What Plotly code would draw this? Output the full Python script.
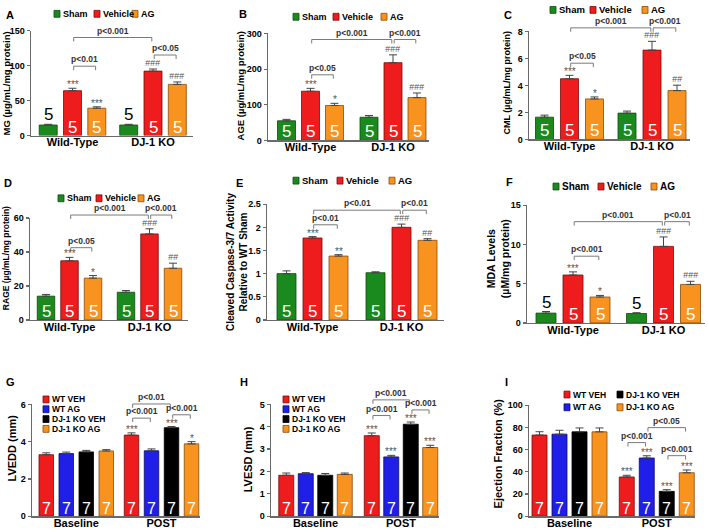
import plotly.graph_objects as go

W, H = 709, 532
FONT = "Arial, Liberation Sans, Helvetica, sans-serif"

# ---------------- data ----------------
top_groups = ["Wild-Type", "DJ-1 KO"]
top_series = ["Sham", "Vehicle", "AG"]
bottom_groups = ["Baseline", "POST"]
bottom_series = ["WT VEH", "WT AG", "DJ-1 KO VEH", "DJ-1 KO AG"]

# rows = series, columns = groups
mg_mean = [[15, 15], [64, 92], [39, 73]]
mg_sem = [[1, 1], [3.5, 3], [2, 3.5]]
mg_n = [[5, 5], [5, 5], [5, 5]]
mg_sig = [["", ""], ["***", "###"], ["***", "###"]]
mg_brackets = [(0, 1, 0, 2, 99, "p<0.01"), (0, 1, 1, 1, 140, "p<0.001"), (1, 1, 1, 2, 115, "p<0.05")]

age_mean = [[55, 65], [138, 218], [98, 120]]
age_sem = [[4, 5], [8, 22], [6, 13]]
age_n = [[5, 5], [5, 5], [5, 5]]
age_sig = [["", ""], ["***", "###"], ["*", "###"]]
age_brackets = [(0, 1, 0, 2, 184, "p<0.05"), (0, 1, 1, 1, 283, "p<0.001"), (1, 1, 1, 2, 283, "p<0.001")]

cml_mean = [[1.65, 1.95], [4.5, 6.62], [3.0, 3.62]]
cml_sem = [[0.15, 0.15], [0.25, 0.65], [0.15, 0.4]]
cml_n = [[5, 5], [5, 5], [5, 5]]
cml_sig = [["", ""], ["***", "###"], ["*", "##"]]
cml_brackets = [(0, 1, 0, 2, 5.65, "p<0.05"), (0, 1, 1, 1, 8.27, "p<0.001"), (1, 1, 1, 2, 8.27, "p<0.001")]

rage_mean = [[14, 16.3], [34.8, 50.6], [24.6, 30.4]]
rage_sem = [[1, 1], [2, 3], [1.5, 3]]
rage_n = [[5, 5], [5, 5], [5, 5]]
rage_sig = [["", ""], ["***", "###"], ["*", "##"]]
rage_brackets = [(0, 1, 0, 2, 42.5, "p<0.05"), (0, 1, 1, 1, 61.7, "p<0.001"), (1, 1, 1, 2, 61.7, "p<0.001")]

casp_mean = [[1.0, 1.02], [1.77, 2.0], [1.38, 1.72]]
casp_sem = [[0.06, 0.02], [0.03, 0.07], [0.03, 0.035]]
casp_n = [[5, 5], [5, 5], [5, 5]]
casp_sig = [["", ""], ["***", "###"], ["**", "##"]]
casp_brackets = [(0, 1, 0, 2, 2.055, "p<0.01"), (0, 1, 1, 1, 2.37, "p<0.01"), (1, 1, 1, 2, 2.37, "p<0.01")]

mda_mean = [[1.25, 1.2], [6.1, 9.75], [3.3, 4.9]]
mda_sem = [[0.2, 0.1], [0.4, 1.2], [0.2, 0.4]]
mda_n = [[5, 5], [5, 5], [5, 5]]
mda_sig = [["", ""], ["***", "###"], ["*", "###"]]
mda_brackets = [(0, 1, 0, 2, 8.5, "p<0.001"), (0, 1, 1, 1, 12.9, "p<0.001"), (1, 1, 1, 2, 12.9, "p<0.01")]

lvedd_mean = [[3.3, 4.35], [3.36, 3.51], [3.45, 4.75], [3.5, 3.88]]
lvedd_sem = [[0.1, 0.12], [0.08, 0.1], [0.08, 0.06], [0.07, 0.12]]
lvedd_n = [[7, 7], [7, 7], [7, 7], [7, 7]]
lvedd_sig = [["", "***"], ["", ""], ["", "***"], ["", "*"]]
lvedd_brackets = [(1, 0, 1, 1, 5.26, "p<0.001"), (1, 0, 1, 2, 6.02, "p<0.01"), (1, 2, 1, 3, 5.44, "p<0.001")]

lvesd_mean = [[1.83, 3.6], [1.9, 2.65], [1.83, 4.11], [1.87, 3.07]]
lvesd_sem = [[0.1, 0.12], [0.05, 0.07], [0.08, 0.1], [0.06, 0.1]]
lvesd_n = [[7, 7], [7, 7], [7, 7], [7, 7]]
lvesd_sig = [["", "***"], ["", "***"], ["", "***"], ["", "***"]]
lvesd_brackets = [(1, 0, 1, 1, 4.5, "p<0.001"), (1, 0, 1, 2, 5.2, "p<0.001"), (1, 2, 1, 3, 4.75, "p<0.001")]

ef_mean = [[73.2, 35.4], [74.0, 52.5], [76.1, 22.4], [76.1, 39.2]]
ef_sem = [[3, 1.5], [3.5, 2], [3.5, 1.5], [3.5, 2.5]]
ef_n = [[7, 7], [7, 7], [7, 7], [7, 7]]
ef_sig = [["", "***"], ["", "***"], ["", "***"], ["", "***"]]
ef_brackets = [(1, 0, 1, 1, 66.4, "p<0.001"), (1, 1, 1, 3, 79.9, "p<0.05"), (1, 2, 1, 3, 54.6, "p<0.001")]

# ---------------- styles ----------------
COLORS = {"Sham": "#1b8a1e", "Vehicle": "#ee1c1c", "AG": "#f7931e",
          "WT VEH": "#ee1c1c", "WT AG": "#1f1fe8", "DJ-1 KO VEH": "#000000", "DJ-1 KO AG": "#f7931e"}
EDGES = {"Sham": "#0c4a0c", "Vehicle": "#7a0b0b", "AG": "#8a4a08",
         "WT VEH": "#7a0b0b", "WT AG": "#0b0b70", "DJ-1 KO VEH": "#000000", "DJ-1 KO AG": "#8a4a08"}
AXC = "#6a6a6a"

panels = [
    dict(mean=mg_mean, sem=mg_sem, n=mg_n, sig=mg_sig, br=mg_brackets, groups=top_groups, series=top_series,
         letter="A", lxy=(10, 10), title="MG (µg/mL/mg protein)", txy=(6, 80), tsize=9.5,
         ax=(31, 193), ay=(133, 26), ymax=150, dtick=50, centers=(72.5, 153), slot=24.3, bw=18,
         leg=[(54, 9), (94, 9), (132, 9)], lsize=9),
    dict(mean=age_mean, sem=age_sem, n=age_n, sig=age_sig, br=age_brackets, groups=top_groups, series=top_series,
         letter="B", lxy=(243, 9), title="AGE (µg/mL/mg protein)", txy=(240, 82), tsize=9.5,
         ax=(268, 429), ay=(138, 29), ymax=300, dtick=100, centers=(310.5, 393), slot=24, bw=18,
         leg=[(293, 12), (333, 12), (381, 12)], lsize=9),
    dict(mean=cml_mean, sem=cml_sem, n=cml_n, sig=cml_sig, br=cml_brackets, groups=top_groups, series=top_series,
         letter="C", lxy=(508, 10), title="CML (µg/mL/mg protein)", txy=(507, 79), tsize=9,
         ax=(529, 690), ay=(137, 27), ymax=8, dtick=2, centers=(569.5, 652), slot=25, bw=18,
         leg=[(550, 5), (590, 5), (642, 5)], lsize=9.5),
    dict(mean=rage_mean, sem=rage_sem, n=rage_n, sig=rage_sig, br=rage_brackets, groups=top_groups, series=top_series,
         letter="D", lxy=(8, 181), title="RAGE (µg/mL/mg protein)", txy=(6, 258), tsize=8.5,
         ax=(30, 188), ay=(321, 217), ymax=60, dtick=20, centers=(69.5, 149.5), slot=23.5, bw=17.5,
         leg=[(58, 197), (96, 197), (138, 197)], lsize=9),
    dict(mean=casp_mean, sem=casp_sem, n=casp_n, sig=casp_sig, br=casp_brackets, groups=top_groups, series=top_series,
         letter="E", lxy=(240, 181), title="Cleaved Caspase-3/7 Activity<br>Relative to WT Sham", txy=(237, 262), tsize=10,
         ax=(267, 444), ay=(321, 203), ymax=2.5, dtick=0.5, centers=(312.5, 401.5), slot=26, bw=19,
         leg=[(293, 179), (337, 179), (389, 179)], lsize=9.5),
    dict(mean=mda_mean, sem=mda_sem, n=mda_n, sig=mda_sig, br=mda_brackets, groups=top_groups, series=top_series,
         letter="F", lxy=(509, 180), title="MDA Levels<br>(µM/mg protein)", txy=(498, 259), tsize=10.5,
         ax=(527, 705), ay=(324, 204), ymax=15, dtick=5, centers=(573, 663.5), slot=27, bw=20,
         leg=[(553, 185), (598, 185), (651, 185)], lsize=10),
    dict(mean=lvedd_mean, sem=lvedd_sem, n=lvedd_n, sig=lvedd_sig, br=lvedd_brackets, groups=bottom_groups, series=bottom_series,
         letter="G", lxy=(10, 384), title="LVEDD (mm)", txy=(12, 452), tsize=11,
         ax=(32, 200), ay=(521, 407), ymax=6, dtick=2, centers=(76.25, 161.5), slot=20, bw=14.5,
         leg=[(43, 402), (43, 412), (43, 422), (43, 432)], lsize=8.5),
    dict(mean=lvesd_mean, sem=lvesd_sem, n=lvesd_n, sig=lvesd_sig, br=lvesd_brackets, groups=bottom_groups, series=bottom_series,
         letter="H", lxy=(244, 384), title="LVESD (mm)", txy=(248, 463), tsize=11,
         ax=(271, 439), ay=(521, 407), ymax=5, dtick=1, centers=(315.5, 401), slot=19.5, bw=15,
         leg=[(283, 402), (283, 412), (283, 422), (283, 432)], lsize=8.5),
    dict(mean=ef_mean, sem=ef_sem, n=ef_n, sig=ef_sig, br=ef_brackets, groups=bottom_groups, series=bottom_series,
         letter="I", lxy=(506, 384), title="Ejection Fraction (%)", txy=(498, 457), tsize=11,
         ax=(529, 695), ay=(521, 408), ymax=100, dtick=20, centers=(569.5, 656.75), slot=20, bw=15,
         leg=[(564, 397), (564, 410), (617, 397), (617, 410)], lsize=8.5),
]

fig = go.Figure()
shapes, annotations = [], []
layout_axes = {}

for i, p in enumerate(panels, start=1):
    sfx = "" if i == 1 else str(i)
    xa, ya = "x" + sfx, "y" + sfx
    c0, c1 = p["centers"]
    unit = c1 - c0
    slot = p["slot"] / unit
    bw = p["bw"] / unit
    ns, ng = len(p["series"]), len(p["groups"])
    ay0, ay1 = p["ay"]
    ppu = (ay0 - ay1) / p["ymax"]
    ymax = p["ymax"]

    def xpos(g, s):
        return g + (s - (ns - 1) / 2) * slot

    for s, name in enumerate(p["series"]):
        xs = [xpos(g, s) for g in range(ng)]
        fig.add_trace(go.Bar(
            x=xs, y=p["mean"][s], width=bw, name=name, showlegend=False,
            marker=dict(color=COLORS[name], line=dict(color=EDGES[name], width=0.8)),
            error_y=dict(type="data", array=p["sem"][s], arrayminus=[0] * ng, symmetric=False,
                         color="#444444", thickness=1, width=4),
            xaxis=xa, yaxis=ya, hoverinfo="skip"))
        for g in range(ng):
            v, e = p["mean"][s][g], p["sem"][s][g]
            nsize = 17 if ns == 3 else 16
            if v * ppu < 16:
                annotations.append(dict(x=xs[g], y=v + e, xref=xa, yref=ya, text=str(p["n"][s][g]),
                                        showarrow=False, yanchor="bottom", yshift=-2,
                                        font=dict(family=FONT, size=nsize, color="black")))
            else:
                annotations.append(dict(x=xs[g], y=0, xref=xa, yref=ya, text=str(p["n"][s][g]),
                                        showarrow=False, yanchor="bottom", yshift=-3,
                                        font=dict(family=FONT, size=nsize, color="white")))
            mark = p["sig"][s][g]
            if mark:
                is_hash = mark.startswith("#")
                annotations.append(dict(x=xs[g], y=v + e, xref=xa, yref=ya,
                                        text=("<i>" + mark + "</i>") if is_hash else mark,
                                        showarrow=False, yanchor="bottom",
                                        yshift=-1 if is_hash else -4,
                                        font=dict(family=FONT, size=9 if is_hash else 10, color="#555555")))

    # significance brackets
    inset = 1.2 / unit
    leg = 4 / (ay0 - ay1)
    for (ga, sa, gb, sb, yb, label) in p["br"]:
        x1 = xpos(ga, sa) + inset
        x2 = xpos(gb, sb) - inset
        yd = yb / ymax
        shapes.append(dict(type="path", xref=xa, yref=ya + " domain",
                           path=f"M{x1},{yd - leg} L{x1},{yd} L{x2},{yd} L{x2},{yd - leg}",
                           line=dict(color="#7a7a7a", width=1)))
        annotations.append(dict(x=(x1 + x2) / 2, y=yd, xref=xa, yref=ya + " domain", text=label,
                                showarrow=False, yanchor="bottom", yshift=0,
                                font=dict(family=FONT, size=8.5, color="#333333", weight="bold")))

    # legend (squares + labels)
    for (sx, sy), name in zip(p["leg"], p["series"]):
        shapes.append(dict(type="rect", xref="paper", yref="paper",
                           x0=sx / W, x1=(sx + 6) / W, y0=1 - (sy + 3.5) / H, y1=1 - (sy - 3.5) / H,
                           fillcolor=COLORS[name], line=dict(color=EDGES[name], width=0.8)))
        annotations.append(dict(x=(sx + 7) / W, y=1 - sy / H, xref="paper", yref="paper",
                                xanchor="left", yanchor="middle", text=name, showarrow=False,
                                font=dict(family=FONT, size=p["lsize"], color="black", weight="bold")))

    # panel letter and y title
    annotations.append(dict(x=p["lxy"][0] / W, y=1 - p["lxy"][1] / H, xref="paper", yref="paper",
                            text=p["letter"], showarrow=False, xanchor="center", yanchor="middle",
                            font=dict(family=FONT, size=11, color="black", weight="bold")))
    annotations.append(dict(x=p["txy"][0] / W, y=1 - p["txy"][1] / H, xref="paper", yref="paper",
                            text=p["title"], showarrow=False, xanchor="center", yanchor="middle",
                            textangle=-90,
                            font=dict(family=FONT, size=p["tsize"], color="black", weight="bold")))

    ax0, ax1 = p["ax"]
    layout_axes["xaxis" + sfx] = dict(
        domain=[ax0 / W, ax1 / W], range=[(ax0 - c0) / unit, (ax1 - c0) / unit], anchor=ya,
        showline=True, linecolor=AXC, linewidth=1.5, ticks="", ticklen=0, ticklabelstandoff=-4,
        tickvals=list(range(ng)), ticktext=p["groups"], showgrid=False, zeroline=False, fixedrange=True,
        tickfont=dict(family=FONT, size=11, color="black", weight="bold"))
    layout_axes["yaxis" + sfx] = dict(
        domain=[1 - ay0 / H, 1 - ay1 / H], range=[0, ymax], anchor=xa,
        showline=True, linecolor=AXC, linewidth=1.5, ticks="outside", ticklen=3,
        tickwidth=1.2, tickcolor=AXC, tick0=0, dtick=p["dtick"], showgrid=False, zeroline=False,
        fixedrange=True, tickfont=dict(family=FONT, size=9, color="black", weight="bold"))

fig.update_layout(
    width=W, height=H, autosize=False, margin=dict(l=0, r=0, t=0, b=0),
    paper_bgcolor="white", plot_bgcolor="white", barmode="overlay", showlegend=False,
    shapes=shapes, annotations=annotations, **layout_axes)

fig.write_html("out.html", config={"displayModeBar": False, "staticPlot": True},
               post_script="document.body.style.margin='0px';document.body.style.padding='0px';")
